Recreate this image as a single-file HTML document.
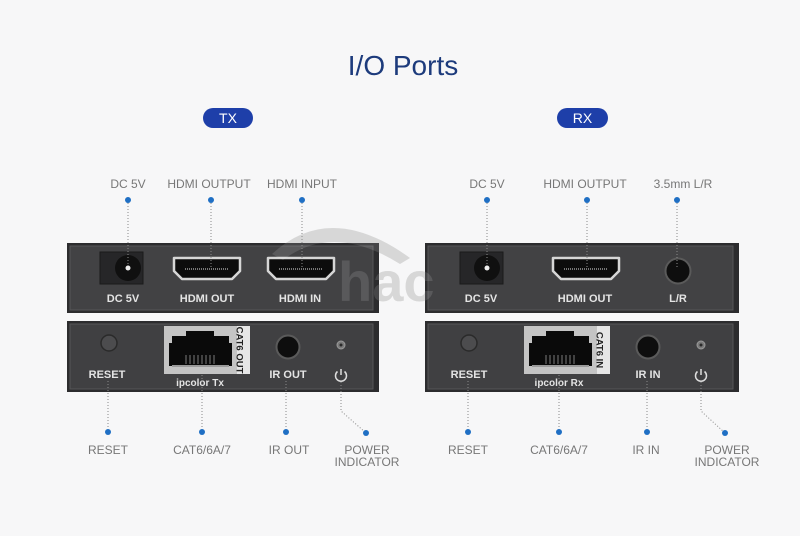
<!DOCTYPE html>
<html><head><meta charset="utf-8"><style>
html,body{margin:0;padding:0;background:#f7f7f8;}
svg{display:block;}
.lbl{font-family:"Liberation Sans",sans-serif;font-size:12px;fill:#777;text-anchor:middle;}
.bl{font-family:"Liberation Sans",sans-serif;font-size:11px;font-weight:bold;fill:#e4e4e4;text-anchor:middle;}
.dot{fill:#1f6fc4;}
.dl{stroke:#8a8a8a;stroke-width:1;stroke-dasharray:1 2;fill:none;}
</style></head><body>
<svg width="800" height="536" viewBox="0 0 800 536" xmlns="http://www.w3.org/2000/svg">
<rect width="800" height="536" fill="#f7f7f8"/>
<text x="403" y="75" font-family="Liberation Sans,sans-serif" font-size="28" fill="#1d3b7c" text-anchor="middle">I/O Ports</text>
<rect x="203" y="108" width="50" height="20" rx="10" fill="#1e3fa9"/>
<text x="228" y="123" font-family="Liberation Sans,sans-serif" font-size="14" fill="#fff" text-anchor="middle">TX</text>
<rect x="557" y="108" width="51" height="20" rx="10" fill="#1e3fa9"/>
<text x="582.5" y="123" font-family="Liberation Sans,sans-serif" font-size="14" fill="#fff" text-anchor="middle">RX</text>

<!-- watermark underlay -->
<g fill="#d2d2d2">
<path d="M272 254 Q330 200 410 258 L400 264 Q333 222 283 260 Z"/>
<text x="338" y="301" font-family="Liberation Sans,sans-serif" font-weight="bold" font-size="56">hac</text>
</g>

<!-- top labels -->
<text class="lbl" x="128" y="188">DC 5V</text>
<text class="lbl" x="209" y="188">HDMI OUTPUT</text>
<text class="lbl" x="302" y="188">HDMI INPUT</text>
<text class="lbl" x="487" y="188">DC 5V</text>
<text class="lbl" x="585" y="188">HDMI OUTPUT</text>
<text class="lbl" x="683" y="188">3.5mm L/R</text>

<!-- boxes -->
<g>
<rect x="67" y="243" width="312" height="70" fill="#2c2c2e"/>
<rect x="70" y="246" width="303" height="64" fill="#424244" stroke="#565658" stroke-width="1"/>
<rect x="67" y="321" width="312" height="71" fill="#2c2c2e"/>
<rect x="70" y="324" width="303" height="65" fill="#404042" stroke="#565658" stroke-width="1"/>
<rect x="425" y="243" width="314" height="70" fill="#2c2c2e"/>
<rect x="428" y="246" width="305" height="64" fill="#424244" stroke="#565658" stroke-width="1"/>
<rect x="425" y="321" width="314" height="71" fill="#2c2c2e"/>
<rect x="428" y="324" width="305" height="65" fill="#404042" stroke="#565658" stroke-width="1"/>
</g>

<!-- TX top components -->
<rect x="100" y="252" width="43" height="32" fill="#262628" stroke="#1a1a1a"/>
<circle cx="128" cy="268" r="13" fill="#101010"/>
<circle cx="128" cy="268" r="2.5" fill="#eee"/>
<path d="M174 258 H240 V271 L232 279 H182 L174 271 Z" fill="#0c0c0c" stroke="#d6d6d6" stroke-width="2.5" stroke-linejoin="round"/>
<line x1="185" y1="269" x2="229" y2="269" stroke="#777" stroke-width="2" stroke-dasharray="1 1"/>
<path d="M268 258 H334 V271 L326 279 H276 L268 271 Z" fill="#0c0c0c" stroke="#d6d6d6" stroke-width="2.5" stroke-linejoin="round"/>
<line x1="279" y1="269" x2="323" y2="269" stroke="#777" stroke-width="2" stroke-dasharray="1 1"/>
<text class="bl" x="123" y="302">DC 5V</text>
<text class="bl" x="207" y="302">HDMI OUT</text>
<text class="bl" x="300" y="302">HDMI IN</text>

<!-- RX top components -->
<rect x="460" y="252" width="43" height="32" fill="#262628" stroke="#1a1a1a"/>
<circle cx="487" cy="268" r="13" fill="#101010"/>
<circle cx="487" cy="268" r="2.5" fill="#eee"/>
<path d="M553 258 H619 V271 L611 279 H561 L553 271 Z" fill="#0c0c0c" stroke="#d6d6d6" stroke-width="2.5" stroke-linejoin="round"/>
<line x1="564" y1="269" x2="608" y2="269" stroke="#777" stroke-width="2" stroke-dasharray="1 1"/>
<circle cx="678" cy="271" r="12.5" fill="#0e0e0e" stroke="#5a5a5a" stroke-width="2"/>
<text class="bl" x="481" y="302">DC 5V</text>
<text class="bl" x="585" y="302">HDMI OUT</text>
<text class="bl" x="678" y="302">L/R</text>

<!-- TX bottom components -->
<circle cx="109" cy="343" r="8" fill="#4c4c4e" stroke="#2a2a2a" stroke-width="1.5"/>
<rect x="164" y="326" width="73" height="48" fill="#c4c4c4"/>
<path d="M186 331 H214 V336 H229 V343 H232 V366 H169 V343 H172 V336 H186 Z" fill="#0a0a0a"/>
<line x1="172" y1="366" x2="229" y2="366" stroke="#9a9a9a" stroke-width="2"/>
<g stroke="#7a7a7a" stroke-width="1"><line x1="186" y1="355" x2="186" y2="364"/><line x1="190" y1="355" x2="190" y2="364"/><line x1="194" y1="355" x2="194" y2="364"/><line x1="198" y1="355" x2="198" y2="364"/><line x1="202" y1="355" x2="202" y2="364"/><line x1="206" y1="355" x2="206" y2="364"/><line x1="210" y1="355" x2="210" y2="364"/><line x1="214" y1="355" x2="214" y2="364"/></g>
<rect x="237" y="326" width="13" height="48" fill="#e6e6e6"/>
<text x="240" y="350" transform="rotate(90 240 350)" font-family="Liberation Sans,sans-serif" font-size="9.5" font-weight="bold" fill="#222" text-anchor="middle" dy="3.5">CAT6 OUT</text>
<circle cx="288" cy="347" r="11.5" fill="#0e0e0e" stroke="#5a5a5a" stroke-width="2"/>
<circle cx="341" cy="345" r="4" fill="#7a7a7a" stroke="#9a9a9a" stroke-width="1"/>
<circle cx="341" cy="345" r="1.5" fill="#2a2a2a"/>
<text class="bl" x="107" y="378">RESET</text>
<text class="bl" x="288" y="378">IR OUT</text>
<text x="200" y="386" font-family="Liberation Sans,sans-serif" font-size="10" font-weight="bold" fill="#e4e4e4" text-anchor="middle">ipcolor Tx</text>
<path d="M337.5 371.5 A5.5 5.5 0 1 0 344.5 371.5" fill="none" stroke="#ddd" stroke-width="1.5"/>
<line x1="341" y1="369" x2="341" y2="375" stroke="#ddd" stroke-width="1.5"/>

<!-- RX bottom components -->
<circle cx="469" cy="343" r="8" fill="#4c4c4e" stroke="#2a2a2a" stroke-width="1.5"/>
<rect x="524" y="326" width="73" height="48" fill="#c4c4c4"/>
<path d="M546 331 H574 V336 H589 V343 H592 V366 H529 V343 H532 V336 H546 Z" fill="#0a0a0a"/>
<line x1="532" y1="366" x2="589" y2="366" stroke="#9a9a9a" stroke-width="2"/>
<g stroke="#7a7a7a" stroke-width="1"><line x1="546" y1="355" x2="546" y2="364"/><line x1="550" y1="355" x2="550" y2="364"/><line x1="554" y1="355" x2="554" y2="364"/><line x1="558" y1="355" x2="558" y2="364"/><line x1="562" y1="355" x2="562" y2="364"/><line x1="566" y1="355" x2="566" y2="364"/><line x1="570" y1="355" x2="570" y2="364"/><line x1="574" y1="355" x2="574" y2="364"/></g>
<rect x="597" y="326" width="13" height="48" fill="#e6e6e6"/>
<text x="600" y="350" transform="rotate(90 600 350)" font-family="Liberation Sans,sans-serif" font-size="9.5" font-weight="bold" fill="#222" text-anchor="middle" dy="3.5">CAT6 IN</text>
<circle cx="648" cy="347" r="11.5" fill="#0e0e0e" stroke="#5a5a5a" stroke-width="2"/>
<circle cx="701" cy="345" r="4" fill="#7a7a7a" stroke="#9a9a9a" stroke-width="1"/>
<circle cx="701" cy="345" r="1.5" fill="#2a2a2a"/>
<text class="bl" x="469" y="378">RESET</text>
<text class="bl" x="648" y="378">IR IN</text>
<text x="559" y="386" font-family="Liberation Sans,sans-serif" font-size="10" font-weight="bold" fill="#e4e4e4" text-anchor="middle">ipcolor Rx</text>
<path d="M697.5 371.5 A5.5 5.5 0 1 0 704.5 371.5" fill="none" stroke="#ddd" stroke-width="1.5"/>
<line x1="701" y1="369" x2="701" y2="375" stroke="#ddd" stroke-width="1.5"/>

<!-- watermark overlay on boxes -->
<g fill="#ffffff" opacity="0.12">
<path d="M272 254 Q330 200 410 258 L400 264 Q333 222 283 260 Z"/>
<text x="338" y="301" font-family="Liberation Sans,sans-serif" font-weight="bold" font-size="56">hac</text>
</g>

<!-- top connectors -->
<line class="dl" x1="128" y1="200" x2="128" y2="266"/>
<line class="dl" x1="211" y1="200" x2="211" y2="268"/>
<line class="dl" x1="302" y1="200" x2="302" y2="268"/>
<line class="dl" x1="487" y1="200" x2="487" y2="266"/>
<line class="dl" x1="587" y1="200" x2="587" y2="268"/>
<line class="dl" x1="677" y1="200" x2="677" y2="268"/>
<circle class="dot" cx="128" cy="200" r="3"/>
<circle class="dot" cx="211" cy="200" r="3"/>
<circle class="dot" cx="302" cy="200" r="3"/>
<circle class="dot" cx="487" cy="200" r="3"/>
<circle class="dot" cx="587" cy="200" r="3"/>
<circle class="dot" cx="677" cy="200" r="3"/>

<!-- bottom connectors TX -->
<line class="dl" x1="108" y1="381" x2="108" y2="432"/>
<line class="dl" x1="202" y1="375" x2="202" y2="432"/>
<line class="dl" x1="286" y1="381" x2="286" y2="432"/>
<polyline class="dl" points="341,382 341,411 366,433"/>
<circle class="dot" cx="108" cy="432" r="3"/>
<circle class="dot" cx="202" cy="432" r="3"/>
<circle class="dot" cx="286" cy="432" r="3"/>
<circle class="dot" cx="366" cy="433" r="3"/>
<text class="lbl" x="108" y="454">RESET</text>
<text class="lbl" x="202" y="454">CAT6/6A/7</text>
<text class="lbl" x="289" y="454">IR OUT</text>
<text class="lbl" x="367" y="454">POWER</text>
<text class="lbl" x="367" y="466">INDICATOR</text>

<!-- bottom connectors RX -->
<line class="dl" x1="468" y1="381" x2="468" y2="432"/>
<line class="dl" x1="559" y1="375" x2="559" y2="432"/>
<line class="dl" x1="647" y1="381" x2="647" y2="432"/>
<polyline class="dl" points="701,382 701,411 725,433"/>
<circle class="dot" cx="468" cy="432" r="3"/>
<circle class="dot" cx="559" cy="432" r="3"/>
<circle class="dot" cx="647" cy="432" r="3"/>
<circle class="dot" cx="725" cy="433" r="3"/>
<text class="lbl" x="468" y="454">RESET</text>
<text class="lbl" x="559" y="454">CAT6/6A/7</text>
<text class="lbl" x="646" y="454">IR IN</text>
<text class="lbl" x="727" y="454">POWER</text>
<text class="lbl" x="727" y="466">INDICATOR</text>
</svg>
</body></html>
